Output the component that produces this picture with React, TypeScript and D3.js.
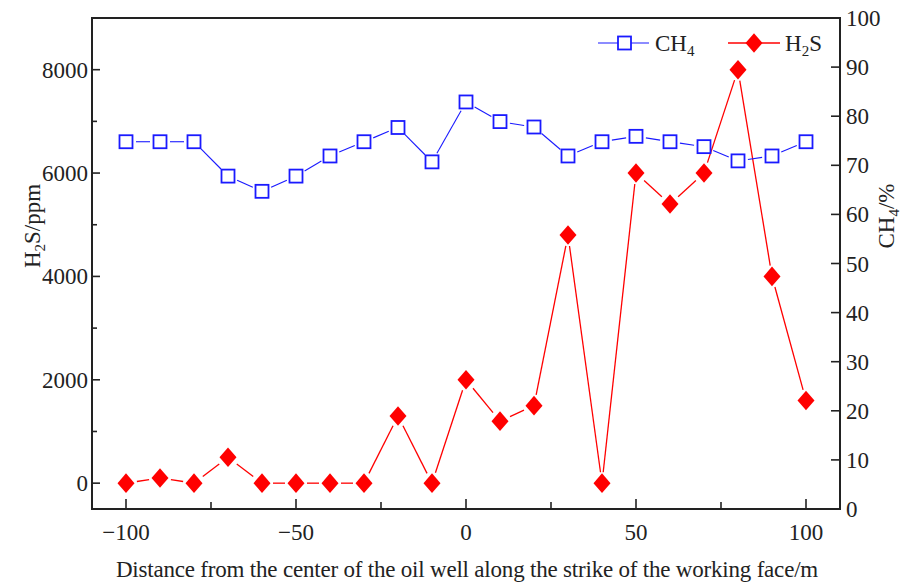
import React from "react";
import * as d3 from "d3";

// Sampling positions along the working face (m)
const distances = [-100, -90, -80, -70, -60, -50, -40, -30, -20, -10, 0, 10, 20, 30, 40, 50, 60, 70, 80, 90, 100];
// H2S concentration (ppm), left axis
const h2s = [0, 100, 0, 500, 0, 0, 0, 0, 1300, 0, 2000, 1200, 1500, 4800, 0, 6000, 5400, 6000, 8000, 4000, 1600];
// CH4 concentration (%), right axis
const ch4 = [74.8, 74.8, 74.8, 67.8, 64.7, 67.8, 71.9, 74.8, 77.7, 70.7, 82.9, 78.9, 77.8, 71.9, 74.8, 75.9, 74.8, 73.8, 70.9, 71.9, 74.8];

const leftTicks = [0, 2000, 4000, 6000, 8000];
const leftMinor = [1000, 3000, 5000, 7000];
const rightTicks = [0, 10, 20, 30, 40, 50, 60, 70, 80, 90, 100];
const bottomTicks = [-100, -50, 0, 50, 100];
const bottomMinor = [-75, -25, 25, 75];

const W = 904;
const H = 586;
const L = 92, R = 840, T = 18, B = 509;
const FONT = "'Liberation Serif', 'Times New Roman', serif";
const FS = 23;
const BLUE = "#1a1aff";
const RED = "#ff0000";

const x = d3.scaleLinear().domain([-110, 110]).range([L, R]);
const yL = d3.scaleLinear().domain([-500, 9000]).range([B, T]);
const yR = d3.scaleLinear().domain([0, 100]).range([B, T]);
const fmt = d3.format("");

type Pt = [number, number];

// Connecting segments, shortened at both ends so they stop short of the symbols
function trimmedSegments(pts: Pt[], gap: number) {
  const segs: { x1: number; y1: number; x2: number; y2: number }[] = [];
  for (let i = 0; i < pts.length - 1; i++) {
    const [ax, ay] = pts[i];
    const [bx, by] = pts[i + 1];
    const dx = bx - ax, dy = by - ay;
    const len = Math.hypot(dx, dy);
    if (len <= 2 * gap) continue;
    const ux = dx / len, uy = dy / len;
    segs.push({ x1: ax + ux * gap, y1: ay + uy * gap, x2: bx - ux * gap, y2: by - uy * gap });
  }
  return segs;
}

const diamond = (cx: number, cy: number, w = 8.5, h = 9.8) =>
  `M${cx},${cy - h}L${cx + w},${cy}L${cx},${cy + h}L${cx - w},${cy}Z`;

export default function App() {
  const h2sPts: Pt[] = distances.map((d, i) => [x(d), yL(h2s[i])]);
  const ch4Pts: Pt[] = distances.map((d, i) => [x(d), yR(ch4[i])]);

  return (
    <svg
      width={W}
      height={H}
      style={{ display: "block", position: "absolute", left: 0, top: 0, background: "#fff" }}
      fontFamily={FONT}
    >
      <rect x={0} y={0} width={W} height={H} fill="#fff" />

      {/* H2S series */}
      {trimmedSegments(h2sPts, 11).map((s, i) => (
        <line key={"hl" + i} {...s} stroke={RED} strokeWidth={1.3} />
      ))}
      {h2sPts.map(([px, py], i) => (
        <path key={"hm" + i} d={diamond(px, py)} fill={RED} />
      ))}

      {/* CH4 series */}
      {trimmedSegments(ch4Pts, 10).map((s, i) => (
        <line key={"cl" + i} {...s} stroke={BLUE} strokeWidth={1.1} />
      ))}
      {ch4Pts.map(([px, py], i) => (
        <rect key={"cm" + i} x={px - 6.5} y={py - 6.5} width={13} height={13} fill="#fff" stroke={BLUE} strokeWidth={1.8} />
      ))}

      {/* frame */}
      <rect x={L} y={T} width={R - L} height={B - T} fill="none" stroke="#222" strokeWidth={2} />

      {/* left axis */}
      {leftTicks.map((v) => (
        <g key={"lt" + v}>
          <line x1={L} x2={L + 8} y1={yL(v)} y2={yL(v)} stroke="#222" strokeWidth={1.6} />
          <text x={L - 4} y={yL(v)} dy="0.35em" textAnchor="end" fontSize={FS} fill="#222">{fmt(v)}</text>
        </g>
      ))}
      {leftMinor.map((v) => (
        <line key={"lm" + v} x1={L} x2={L + 5} y1={yL(v)} y2={yL(v)} stroke="#222" strokeWidth={1.6} />
      ))}

      {/* right axis */}
      {rightTicks.map((v) => (
        <g key={"rt" + v}>
          <line x1={R - 9} x2={R} y1={yR(v)} y2={yR(v)} stroke="#222" strokeWidth={1.6} />
          <text x={R + 6} y={yR(v)} dy="0.35em" textAnchor="start" fontSize={FS} fill="#222">{fmt(v)}</text>
        </g>
      ))}

      {/* bottom axis */}
      {bottomTicks.map((v) => (
        <g key={"bt" + v}>
          <line x1={x(v)} x2={x(v)} y1={B} y2={B - 10} stroke="#222" strokeWidth={1.6} />
          <text x={x(v)} y={540} textAnchor="middle" fontSize={FS} fill="#222">{fmt(v)}</text>
        </g>
      ))}
      {bottomMinor.map((v) => (
        <line key={"bm" + v} x1={x(v)} x2={x(v)} y1={B} y2={B - 7} stroke="#222" strokeWidth={1.6} />
      ))}

      {/* axis titles */}
      <text x={467} y={577} textAnchor="middle" fontSize={FS} fill="#222" letterSpacing={-0.2}>
        Distance from the center of the oil well along the strike of the working face/m
      </text>
      <text transform="translate(40,226) rotate(-90)" textAnchor="middle" fontSize={FS} fill="#222">
        H<tspan fontSize={15} dy={5}>2</tspan><tspan dy={-5}>S/ppm</tspan>
      </text>
      <text transform="translate(894,216) rotate(-90)" textAnchor="middle" fontSize={FS} fill="#222">
        CH<tspan fontSize={15} dy={5}>4</tspan><tspan dy={-5}>/%</tspan>
      </text>

      {/* legend */}
      <g>
        <line x1={598} x2={649} y1={43} y2={43} stroke={BLUE} strokeWidth={1.1} />
        <rect x={618} y={36.5} width={13} height={13} fill="#fff" stroke={BLUE} strokeWidth={1.8} />
        <text x={655} y={51} fontSize={FS} fill="#222">
          CH<tspan fontSize={15} dy={5}>4</tspan>
        </text>
        <line x1={728} x2={780} y1={43} y2={43} stroke={RED} strokeWidth={1.3} />
        <path d={diamond(754, 43)} fill={RED} />
        <text x={785} y={51} fontSize={FS} fill="#222">
          H<tspan fontSize={15} dy={5}>2</tspan><tspan dy={-5}>S</tspan>
        </text>
      </g>
    </svg>
  );
}
